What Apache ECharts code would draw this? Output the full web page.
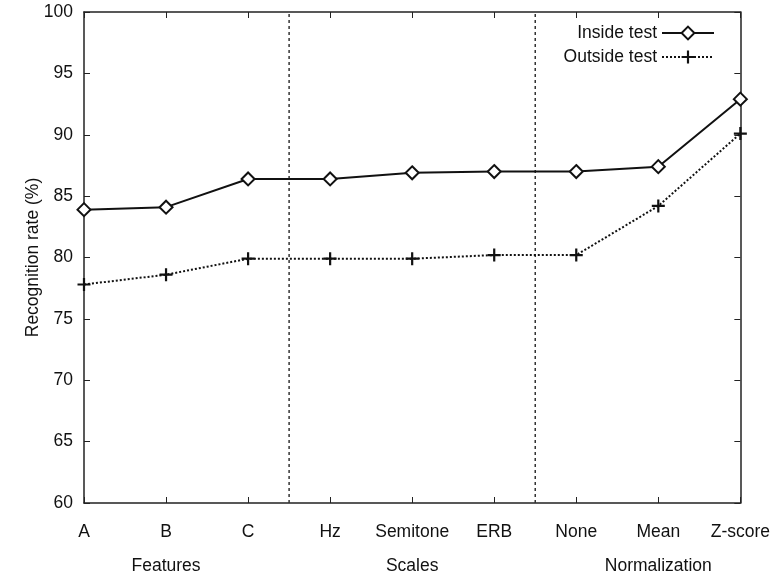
<!DOCTYPE html>
<html><head><meta charset="utf-8">
<script src="https://cdn.jsdelivr.net/npm/echarts@6/dist/echarts.min.js"></script>
<style>html,body{margin:0;padding:0;background:#fff}#c{width:773px;height:581px}</style>
</head><body><div id="c"></div>
<script>
var categories = ['A','B','C','Hz','Semitone','ERB','None','Mean','Z-score'];
var groupLabels = ['','Features','','','Scales','','','Normalization',''];
var insideTest = [83.9, 84.1, 86.4, 86.4, 86.9, 87.0, 87.0, 87.4, 92.9];
var outsideTest = [77.8, 78.6, 79.9, 79.9, 79.9, 80.2, 80.2, 84.2, 90.1];
var separators = [2.5, 5.5];
var yMin = 60, yMax = 100, yStep = 5;

var font = 'Liberation Sans, Arial, sans-serif';
var axisCol = '#222';
var plusPath = 'path://M-0.17,-1L0.17,-1L0.17,-0.17L1,-0.17L1,0.17L0.17,0.17L0.17,1L-0.17,1L-0.17,0.17L-1,0.17L-1,-0.17L-0.17,-0.17Z';

var sepData = [];
separators.forEach(function (s, i) {
  if (i > 0) sepData.push([s, null]);
  sepData.push([s, yMin]); sepData.push([s, yMax]);
});

var chart = echarts.init(document.getElementById('c'), null, {renderer: 'canvas'});
chart.setOption({
  animation: false,
  backgroundColor: '#fff',
  textStyle: {fontFamily: font},
  grid: {left: 84, right: 32, top: 12, bottom: 78, containLabel: false},
  legend: {
    orient: 'vertical', align: 'right', right: 53, top: 19,
    itemWidth: 52, itemHeight: 16, itemGap: 6,
    textStyle: {fontSize: 17.5, color: '#111', fontFamily: font},
    data: ['Inside test', 'Outside test']
  },
  xAxis: [
    {type: 'category', data: categories, boundaryGap: false, position: 'bottom',
     axisLine: {show: true, lineStyle: {color: axisCol, width: 1.5}},
     axisTick: {show: true, inside: true, length: 6, interval: 0, lineStyle: {color: axisCol}},
     axisLabel: {fontSize: 17.5, color: '#111', margin: 20, interval: 0, fontFamily: font},
     splitLine: {show: false}},
    {type: 'value', min: 0, max: 8, interval: 1, position: 'top',
     axisLine: {show: true, onZero: false, lineStyle: {color: axisCol, width: 1.5}},
     axisTick: {show: true, inside: true, length: 6, lineStyle: {color: axisCol}},
     axisLabel: {show: false}, splitLine: {show: false}},
    {type: 'category', data: groupLabels, boundaryGap: false, position: 'bottom', offset: 34,
     axisLine: {show: false}, axisTick: {show: false},
     axisLabel: {fontSize: 17.5, color: '#111', margin: 20, interval: 0, fontFamily: font},
     splitLine: {show: false}}
  ],
  yAxis: [
    {type: 'value', min: yMin, max: yMax, interval: yStep, position: 'left',
     name: 'Recognition rate (%)', nameLocation: 'middle', nameGap: 42, nameMoveOverlap: false,
     nameTextStyle: {fontSize: 17.5, color: '#111', fontFamily: font},
     axisLine: {show: true, lineStyle: {color: axisCol, width: 1.5}},
     axisTick: {show: true, inside: true, length: 6, lineStyle: {color: axisCol}},
     axisLabel: {fontSize: 17.5, color: '#111', margin: 11, fontFamily: font},
     splitLine: {show: false}},
    {type: 'value', min: yMin, max: yMax, interval: yStep, position: 'right',
     axisLine: {show: true, lineStyle: {color: axisCol, width: 1.5}},
     axisTick: {show: true, inside: true, length: 6, lineStyle: {color: axisCol}},
     axisLabel: {show: false}, splitLine: {show: false}}
  ],
  series: [
    {name: 'separators', type: 'line', xAxisIndex: 1, yAxisIndex: 0, data: sepData,
     symbol: 'none', connectNulls: false, silent: true,
     lineStyle: {color: '#333', width: 1.5, type: [3, 3]}, z: 1},
    {name: 'Inside test', type: 'line', xAxisIndex: 0, yAxisIndex: 0, data: insideTest,
     symbol: 'emptyDiamond', symbolSize: 13,
     itemStyle: {color: '#111', borderWidth: 2},
     lineStyle: {color: '#111', width: 2}, z: 3},
    {name: 'Outside test', type: 'line', xAxisIndex: 0, yAxisIndex: 0, data: outsideTest,
     symbol: plusPath, symbolSize: 13,
     itemStyle: {color: '#111'},
     lineStyle: {color: '#111', width: 2, type: [2, 2]}, z: 2}
  ]
});
</script></body></html>
